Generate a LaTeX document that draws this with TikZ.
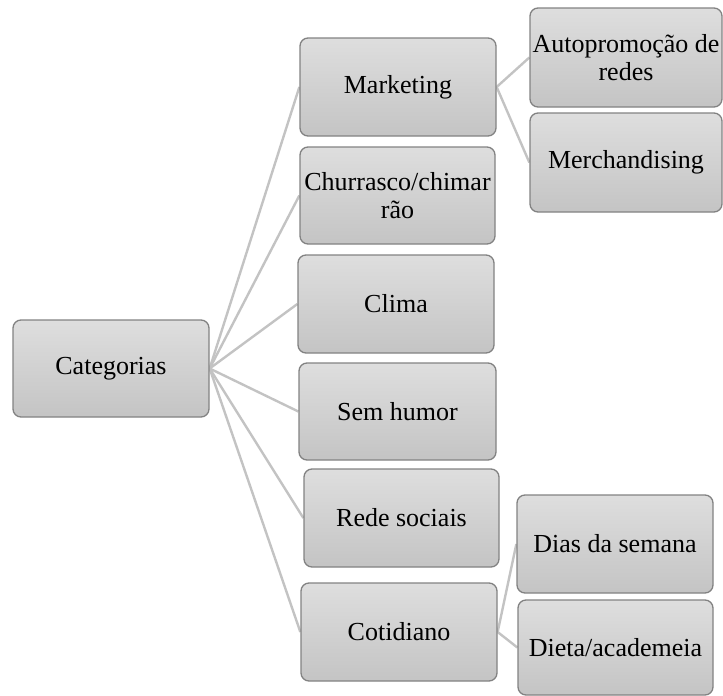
\documentclass[tikz,border=0pt]{standalone}
\usepackage{fontspec}
\setmainfont{Liberation Serif}
\usetikzlibrary{backgrounds}
\definecolor{boxtop}{RGB}{222,222,222}
\definecolor{boxbot}{RGB}{196,196,196}
\definecolor{boxline}{RGB}{130,130,130}
\definecolor{linkc}{RGB}{195,195,195}
\tikzset{
  box/.style={draw=boxline, line width=1.3pt, rounded corners=8pt,
    top color=boxtop, bottom color=boxbot, align=center, inner sep=1pt,
    font=\fontsize{26}{28}\selectfont, text=black},
  link/.style={draw=linkc, line width=2.4pt}
}
\begin{document}
\begin{tikzpicture}[x=1pt,y=-1pt]
\useasboundingbox (0,0) rectangle (723,696);
\node[box, minimum width=196pt, minimum height=97pt] (cat) at (111,368.5) {Categorias};
\node[box, minimum width=196pt, minimum height=98pt] (mkt) at (398,87) {Marketing};
\node[box, minimum width=195pt, minimum height=97pt] (chu) at (397.5,195.5) {Churrasco/chimar\\rão};
\node[box, minimum width=196pt, minimum height=98pt] (cli) at (396,304) {Clima};
\node[box, minimum width=197pt, minimum height=97pt] (sem) at (397.5,411.5) {Sem humor};
\node[box, minimum width=195pt, minimum height=98pt] (red) at (401.5,518) {Rede sociais};
\node[box, minimum width=196pt, minimum height=98pt] (cot) at (399,632) {Cotidiano};
\node[box, minimum width=192pt, minimum height=99pt] (aut) at (626,57.5) {Autopromoção de\\redes};
\node[box, minimum width=192pt, minimum height=99pt] (mer) at (626,162.5) {Merchandising};
\node[box, minimum width=196pt, minimum height=98pt] (dia) at (615,544) {Dias da semana};
\node[box, minimum width=195pt, minimum height=95pt] (die) at (615.5,647.5) {Dieta/academeia};
\begin{scope}[on background layer]
\foreach \t in {mkt,chu,cli,sem,red,cot}
  \draw[link] (cat.east) -- (\t.west);
\draw[link] (mkt.east) -- (aut.west);
\draw[link] (mkt.east) -- (mer.west);
\draw[link] (cot.east) -- (dia.west);
\draw[link] (cot.east) -- (die.west);
\end{scope}
\end{tikzpicture}
\end{document}
